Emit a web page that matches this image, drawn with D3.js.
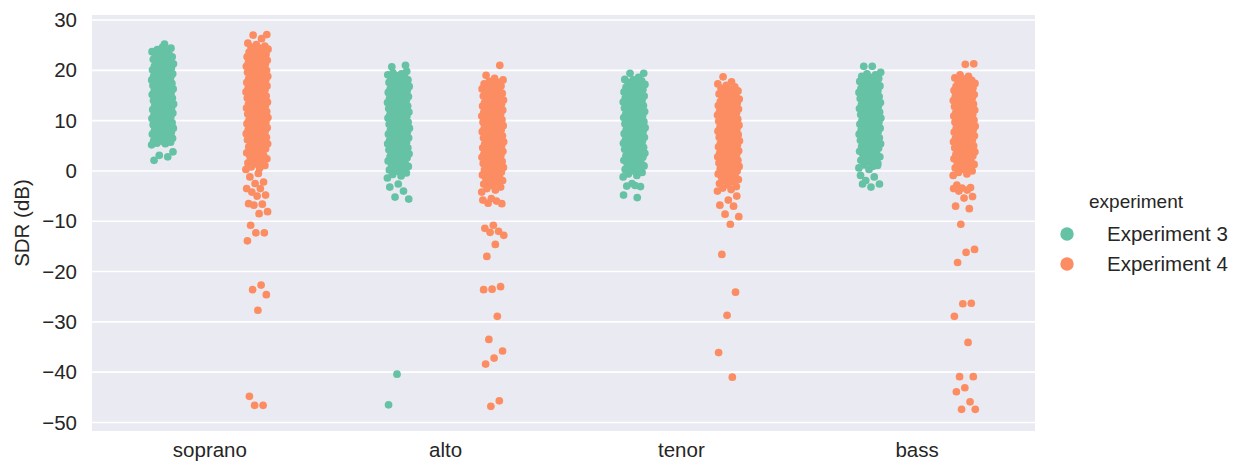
<!DOCTYPE html>
<html>
<head>
<meta charset="utf-8">
<script src="https://cdn.jsdelivr.net/npm/d3@7"></script>
<style>
  body { margin: 0; background: #fff; }
  text { font-family: "Liberation Sans", Arial, sans-serif; fill: #262626; }
</style>
</head>
<body>
<div id="chart"></div>
<script>
// categories and hue levels
var voices = ["soprano", "alto", "tenor", "bass"];
var experiments = ["Experiment 3", "Experiment 4"];
var yTicks = [30, 20, 10, 0, -10, -20, -30, -40, -50];

// SDR values (dB): dense body of each strip, then the scattered points
var sopranoExp3 = [5.2,5.4,5.5,5.7,5.9,6.0,6.2,6.3,6.5,6.6,6.8,7.0,7.1,7.3,7.4,7.6,7.7,7.9,8.0,8.2,8.3,8.5,8.6,8.8,8.9,9.1,9.2,9.4,9.5,9.6,9.8,9.9,10.1,10.2,10.4,10.5,10.7,10.8,10.9,11.1,11.2,11.4,11.5,11.7,11.8,11.9,12.1,12.2,12.4,12.5,12.6,12.8,12.9,13.1,13.2,13.3,13.5,13.6,13.8,13.9,14.0,14.2,14.3,14.5,14.6,14.7,14.9,15.0,15.2,15.3,15.4,15.6,15.7,15.9,16.0,16.1,16.3,16.4,16.6,16.7,16.8,17.0,17.1,17.3,17.4,17.5,17.7,17.8,18.0,18.1,18.3,18.4,18.6,18.7,18.9,19.0,19.2,19.3,19.5,19.6,19.8,19.9,20.1,20.2,20.4,20.5,20.7,20.9,21.0,21.2,21.3,21.5,21.7,21.8,22.0,22.2,22.3,22.5,22.7,22.9,23.1,23.3,23.5,23.7,23.9,24.1,24.4,24.6];
var sopranoExp3Out = [2.1,2.8,3.1,3.8,25.2];

var sopranoExp4 = [0.3,0.6,0.8,1.1,1.4,1.6,1.9,2.1,2.4,2.6,2.9,3.1,3.4,3.6,3.9,4.1,4.4,4.6,4.8,5.0,5.2,5.4,5.5,5.7,5.9,6.0,6.2,6.3,6.5,6.7,6.8,7.0,7.1,7.3,7.4,7.6,7.7,7.9,8.0,8.2,8.3,8.5,8.6,8.8,8.9,9.1,9.2,9.4,9.5,9.7,9.8,10.0,10.1,10.3,10.4,10.6,10.7,10.9,11.0,11.2,11.3,11.5,11.6,11.8,11.9,12.1,12.2,12.4,12.5,12.7,12.8,13.0,13.1,13.3,13.4,13.6,13.7,13.9,14.0,14.2,14.3,14.5,14.6,14.8,14.9,15.1,15.2,15.4,15.5,15.7,15.8,16.0,16.1,16.3,16.4,16.6,16.7,16.9,17.0,17.2,17.3,17.5,17.6,17.8,17.9,18.1,18.2,18.4,18.5,18.7,18.8,19.0,19.1,19.3,19.4,19.6,19.7,19.9,20.0,20.2,20.3,20.5,20.6,20.8,20.9,21.1,21.2,21.4,21.5,21.7,21.8,22.0,22.1,22.3,22.4,22.6,22.7,22.9,23.1,23.2,23.4,23.6,23.8,24.0,24.2,24.4,24.6,24.8,25.1,25.4];
var sopranoExp4Out = [26.3,27.0,27.1,-0.5,-1.2,-2.2,-2.5,-3.5,-3.5,-4.2,-4.8,-5.0,-6.5,-6.6,-6.8,-8.1,-8.5,-10.8,-12.3,-12.3,-13.9,-22.7,-23.6,-24.6,-27.7,-44.8,-46.6,-46.6];

var altoExp3 = [-1.4,-1.0,-0.7,-0.4,-0.1,0.2,0.4,0.7,0.9,1.2,1.4,1.6,1.8,2.0,2.2,2.4,2.6,2.8,2.9,3.1,3.3,3.4,3.6,3.7,3.9,4.0,4.2,4.3,4.5,4.6,4.8,4.9,5.1,5.2,5.4,5.5,5.7,5.8,6.0,6.1,6.3,6.4,6.6,6.7,6.9,7.0,7.2,7.3,7.5,7.6,7.8,7.9,8.1,8.2,8.4,8.5,8.7,8.8,9.0,9.1,9.3,9.4,9.6,9.7,9.9,10.0,10.2,10.3,10.5,10.6,10.8,10.9,11.1,11.2,11.4,11.5,11.7,11.8,12.0,12.1,12.3,12.4,12.6,12.7,12.9,13.0,13.2,13.3,13.5,13.6,13.8,13.9,14.1,14.2,14.4,14.5,14.7,14.8,15.0,15.1,15.3,15.4,15.6,15.7,15.9,16.0,16.2,16.3,16.5,16.6,16.8,16.9,17.1,17.3,17.4,17.6,17.8,17.9,18.1,18.3,18.5,18.7,18.9,19.1,19.3,19.5,19.8];
var altoExp3Out = [-2.6,-3.2,-4.0,-5.2,-5.6,19.0,20.7,21.0,-40.4,-46.5];

var altoExp4 = [-4.2,-3.8,-3.5,-3.2,-2.9,-2.6,-2.4,-2.1,-1.9,-1.6,-1.4,-1.2,-1.0,-0.8,-0.6,-0.4,-0.2,0.0,0.2,0.4,0.5,0.7,0.9,1.0,1.2,1.3,1.5,1.6,1.8,1.9,2.1,2.2,2.4,2.5,2.7,2.8,3.0,3.1,3.3,3.4,3.6,3.7,3.9,4.0,4.2,4.3,4.5,4.6,4.8,4.9,5.1,5.2,5.4,5.5,5.7,5.8,6.0,6.1,6.3,6.4,6.6,6.7,6.9,7.0,7.2,7.3,7.5,7.6,7.8,7.9,8.1,8.2,8.4,8.5,8.7,8.8,9.0,9.1,9.3,9.4,9.6,9.7,9.9,10.0,10.2,10.3,10.5,10.6,10.8,10.9,11.1,11.2,11.4,11.5,11.7,11.8,12.0,12.1,12.3,12.4,12.6,12.7,12.9,13.0,13.2,13.3,13.5,13.6,13.8,13.9,14.1,14.2,14.4,14.5,14.7,14.9,15.0,15.2,15.4,15.5,15.7,15.9,16.1,16.3,16.5,16.7,16.9,17.1,17.3,17.6,17.8,18.1,18.4];
var altoExp4Out = [19.0,21.0,-5.5,-5.8,-6.0,-6.4,-6.5,-10.8,-11.4,-12.0,-12.2,-12.8,-14.6,-17.0,-23.0,-23.5,-23.6,-28.9,-33.5,-35.8,-37.2,-38.4,-45.7,-46.8];

var tenorExp3 = [-1.2,-0.9,-0.6,-0.3,0.0,0.3,0.5,0.8,1.0,1.3,1.5,1.7,1.9,2.1,2.3,2.5,2.7,2.9,3.0,3.2,3.4,3.5,3.7,3.8,4.0,4.1,4.3,4.4,4.6,4.7,4.9,5.0,5.2,5.3,5.5,5.6,5.8,5.9,6.1,6.2,6.4,6.5,6.7,6.8,7.0,7.1,7.3,7.4,7.6,7.7,7.9,8.0,8.2,8.3,8.5,8.6,8.8,8.9,9.1,9.2,9.4,9.5,9.7,9.8,10.0,10.1,10.3,10.4,10.6,10.7,10.9,11.0,11.2,11.3,11.5,11.6,11.8,11.9,12.1,12.2,12.4,12.5,12.7,12.8,13.0,13.1,13.3,13.4,13.6,13.7,13.9,14.0,14.2,14.3,14.5,14.6,14.8,14.9,15.1,15.2,15.4,15.6,15.7,15.9,16.1,16.2,16.4,16.6,16.8,17.0,17.2,17.4,17.6,17.9,18.1];
var tenorExp3Out = [18.2,18.6,19.4,19.4,-2.9,-3.0,-3.1,-2.5,-4.8,-5.3];

var tenorExp4 = [-4.0,-3.7,-3.4,-3.1,-2.8,-2.5,-2.2,-2.0,-1.7,-1.5,-1.2,-1.0,-0.8,-0.6,-0.4,-0.2,0.0,0.2,0.4,0.5,0.7,0.9,1.0,1.2,1.3,1.5,1.6,1.8,1.9,2.1,2.2,2.4,2.5,2.7,2.8,3.0,3.1,3.3,3.4,3.6,3.7,3.9,4.0,4.2,4.3,4.5,4.6,4.8,4.9,5.1,5.2,5.4,5.5,5.7,5.8,6.0,6.1,6.3,6.4,6.6,6.7,6.9,7.0,7.2,7.3,7.5,7.6,7.8,7.9,8.1,8.2,8.4,8.5,8.7,8.8,9.0,9.1,9.3,9.4,9.6,9.7,9.9,10.0,10.2,10.3,10.5,10.6,10.8,10.9,11.1,11.2,11.4,11.5,11.7,11.8,12.0,12.1,12.3,12.4,12.6,12.7,12.9,13.0,13.2,13.3,13.5,13.7,13.8,14.0,14.2,14.3,14.5,14.7,14.9,15.1,15.3,15.5,15.7,15.9,16.2,16.4,16.7,17.0,17.3];
var tenorExp4Out = [17.7,18.7,-5.0,-5.8,-6.8,-7.0,-8.6,-9.1,-10.6,-16.6,-24.1,-28.7,-36.1,-41.0];

var bassExp3 = [0.6,0.9,1.2,1.5,1.8,2.1,2.3,2.6,2.8,3.1,3.3,3.5,3.7,3.9,4.1,4.3,4.5,4.7,4.9,5.0,5.2,5.4,5.5,5.7,5.8,6.0,6.1,6.3,6.4,6.6,6.7,6.9,7.0,7.2,7.3,7.5,7.6,7.8,7.9,8.1,8.2,8.4,8.5,8.7,8.8,9.0,9.1,9.3,9.4,9.6,9.7,9.9,10.0,10.2,10.3,10.5,10.6,10.8,10.9,11.1,11.2,11.4,11.5,11.7,11.8,12.0,12.1,12.3,12.4,12.6,12.7,12.9,13.0,13.2,13.3,13.5,13.6,13.8,13.9,14.1,14.2,14.4,14.5,14.7,14.8,15.0,15.1,15.3,15.4,15.6,15.7,15.9,16.0,16.2,16.4,16.5,16.7,16.9,17.0,17.2,17.4,17.6,17.8,18.0,18.2,18.4,18.6,18.8,19.1,19.3,19.6];
var bassExp3Out = [20.8,20.8,1.1,0.3,-0.9,-1.2,-1.9,-2.6,-3.2,-2.6];

var bassExp4 = [-0.9,-0.6,-0.3,0.0,0.3,0.6,0.8,1.1,1.3,1.6,1.8,2.0,2.2,2.4,2.6,2.8,3.0,3.2,3.3,3.5,3.7,3.8,4.0,4.1,4.3,4.4,4.6,4.7,4.9,5.0,5.2,5.3,5.5,5.6,5.8,5.9,6.1,6.2,6.4,6.5,6.7,6.8,7.0,7.1,7.3,7.4,7.6,7.7,7.9,8.0,8.2,8.3,8.5,8.6,8.8,8.9,9.1,9.2,9.4,9.5,9.7,9.8,10.0,10.1,10.3,10.4,10.6,10.7,10.9,11.0,11.2,11.3,11.5,11.6,11.8,11.9,12.1,12.2,12.4,12.5,12.7,12.8,13.0,13.1,13.3,13.4,13.6,13.7,13.9,14.0,14.2,14.3,14.5,14.6,14.8,14.9,15.1,15.2,15.4,15.5,15.7,15.8,16.0,16.2,16.3,16.5,16.7,16.8,17.0,17.2,17.4,17.6,17.8,18.0,18.3,18.5,18.8,19.1];
var bassExp4Out = [21.3,21.2,-2.8,-3.3,-3.4,-3.5,-3.8,-4.0,-5.1,-5.4,-7.0,-7.5,-10.6,-15.6,-16.2,-18.2,-26.3,-26.4,-28.9,-34.1,-40.9,-40.9,-43.1,-43.9,-45.9,-47.4,-47.4];

var groups = [
  { voice: "soprano", exp: "Experiment 3", values: sopranoExp3.concat(sopranoExp3Out) },
  { voice: "soprano", exp: "Experiment 4", values: sopranoExp4.concat(sopranoExp4Out) },
  { voice: "alto", exp: "Experiment 3", values: altoExp3.concat(altoExp3Out) },
  { voice: "alto", exp: "Experiment 4", values: altoExp4.concat(altoExp4Out) },
  { voice: "tenor", exp: "Experiment 3", values: tenorExp3.concat(tenorExp3Out) },
  { voice: "tenor", exp: "Experiment 4", values: tenorExp4.concat(tenorExp4Out) },
  { voice: "bass", exp: "Experiment 3", values: bassExp3.concat(bassExp3Out) },
  { voice: "bass", exp: "Experiment 4", values: bassExp4.concat(bassExp4Out) }
];

var width = 1234, height = 465;
var plot = { left: 92, top: 15, right: 1035, bottom: 431 };
var fontSize = 20.5;

var svg = d3.select("#chart").append("svg")
    .attr("width", width)
    .attr("height", height);

var x = d3.scaleBand()
    .domain(voices)
    .range([plot.left, plot.right]);

var y = d3.scaleLinear()
    .domain([-51.7, 31.0])
    .range([plot.bottom, plot.top]);

var color = d3.scaleOrdinal()
    .domain(experiments)
    .range(["#66c2a5", "#fc8d62"]);

// dodge offset for hue and jitter spread, in category units
var dodge = d3.scaleOrdinal().domain(experiments).range([-0.2, 0.2]);
var jitterWidth = 0.047;

// background
svg.append("rect")
    .attr("x", plot.left)
    .attr("y", plot.top)
    .attr("width", plot.right - plot.left)
    .attr("height", plot.bottom - plot.top)
    .attr("fill", "#eaeaf2");

// grid
svg.append("g").selectAll("line")
    .data(yTicks)
    .enter().append("line")
    .attr("x1", plot.left)
    .attr("x2", plot.right)
    .attr("y1", function(d){ return y(d); })
    .attr("y2", function(d){ return y(d); })
    .attr("stroke", "#fff")
    .attr("stroke-width", 1.6);

// y axis
var yAxis = d3.axisLeft(y)
    .tickValues(yTicks)
    .tickSize(0)
    .tickPadding(15)
    .tickFormat(function(d){ return d < 0 ? "\u2212" + Math.abs(d) : d; });

var gy = svg.append("g")
    .attr("transform", "translate(" + plot.left + ",0)")
    .call(yAxis);
gy.select(".domain").remove();
gy.selectAll("text").style("font-size", fontSize + "px").attr("fill", "#262626");

// x axis
var xAxis = d3.axisBottom(x).tickSize(0).tickPadding(11);
var gx = svg.append("g")
    .attr("transform", "translate(0," + plot.bottom + ")")
    .call(xAxis);
gx.select(".domain").remove();
gx.selectAll("text").style("font-size", fontSize + "px").attr("fill", "#262626");

svg.append("text")
    .attr("transform", "translate(29," + ((plot.top + plot.bottom) / 2) + ") rotate(-90)")
    .attr("text-anchor", "middle")
    .style("font-size", fontSize + "px")
    .text("SDR (dB)");

// points
var bw = x.bandwidth();
var phi = 0.6180339887;
groups.forEach(function(g){
    var cx = x(g.voice) + bw / 2 + dodge(g.exp) * bw;
    svg.append("g").selectAll("circle")
        .data(g.values)
        .enter().append("circle")
        .attr("cx", function(d, i){
            var j = ((i * phi) % 1) * 2 - 1;
            return cx + j * jitterWidth * bw;
        })
        .attr("cy", function(d){ return y(d); })
        .attr("r", 3.85)
        .attr("fill", color(g.exp));
});

// legend
var legend = svg.append("g");
legend.append("text")
    .attr("x", 1089)
    .attr("y", 208)
    .style("font-size", "19px")
    .text("experiment");

var items = legend.selectAll("g.item")
    .data(experiments)
    .enter().append("g")
    .attr("class", "item")
    .attr("transform", function(d, i){ return "translate(0," + (234 + i * 30) + ")"; });

items.append("circle")
    .attr("cx", 1067)
    .attr("cy", 0)
    .attr("r", 6.7)
    .attr("fill", function(d){ return color(d); });

items.append("text")
    .attr("x", 1107)
    .attr("y", 7)
    .style("font-size", fontSize + "px")
    .text(function(d){ return d; });
</script>
</body>
</html>
